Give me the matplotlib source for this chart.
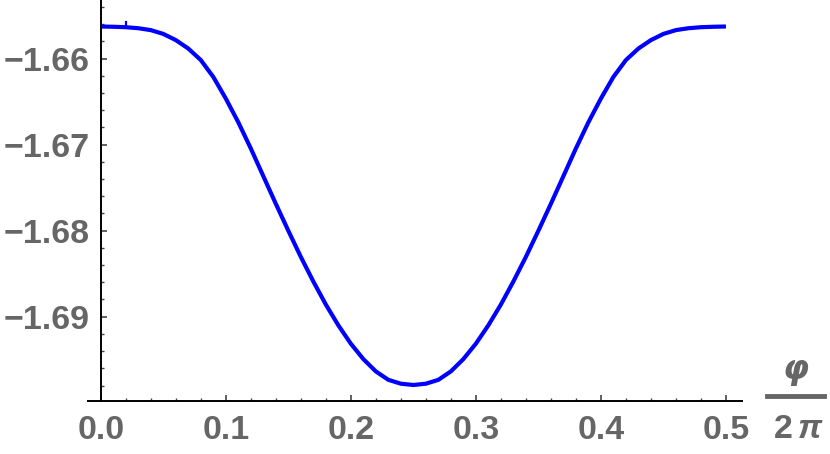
import numpy as np
import matplotlib.pyplot as plt
from matplotlib.lines import Line2D
from matplotlib.ticker import MultipleLocator, FuncFormatter, FormatStrFormatter

# curve, x = phi / (2 pi)
x_left = [0.00, 0.01, 0.02, 0.03, 0.04, 0.05, 0.06, 0.07, 0.08, 0.09,
          0.10, 0.11, 0.12, 0.13, 0.14, 0.15, 0.16, 0.17, 0.18, 0.19,
          0.20, 0.21, 0.22, 0.23, 0.24, 0.25]
y_left = [-1.65628, -1.65631, -1.65636, -1.65648, -1.65670, -1.65714,
          -1.65786, -1.65884, -1.66018, -1.66214, -1.66465, -1.66741,
          -1.67045, -1.67367, -1.67688, -1.68001, -1.68305, -1.68591,
          -1.68859, -1.69100, -1.69314, -1.69493, -1.69636, -1.69734,
          -1.69779, -1.69794]
x_right = [0.26, 0.27, 0.28, 0.29, 0.30, 0.31, 0.32, 0.33, 0.34, 0.35,
           0.36, 0.37, 0.38, 0.39, 0.40, 0.41, 0.42, 0.43, 0.44, 0.45,
           0.46, 0.47, 0.48, 0.49, 0.50]
y_right = [-1.69779, -1.69734, -1.69636, -1.69493, -1.69314, -1.69100,
           -1.68859, -1.68591, -1.68305, -1.68001, -1.67688, -1.67367,
           -1.67045, -1.66741, -1.66465, -1.66214, -1.66018, -1.65884,
           -1.65786, -1.65714, -1.65670, -1.65648, -1.65636, -1.65631,
           -1.65628]
# small glitch in the curve near the start
glitch_x = [0.0205, 0.0205]
glitch_y = [-1.65636, -1.65579]

x_ticks = [0.0, 0.1, 0.2, 0.3, 0.4, 0.5]
y_ticks = [-1.66, -1.67, -1.68, -1.69]

x = np.array(x_left + x_right)
y = np.array(y_left + y_right)

grey = '#666666'
fig = plt.figure(figsize=(8.3, 4.54), dpi=100)
ax = fig.add_axes([88/830, 1 - 401/454, 653.7/830, 401/454])

ax.plot(x, y, color='#0000ff', lw=3.0, solid_capstyle='butt',
        solid_joinstyle='round', clip_on=False)
ax.plot(glitch_x, glitch_y, color='#0000ff', lw=1.6, clip_on=False)

ax.set_xlim(-0.0102, 0.5126)
ax.set_ylim(-1.6998, -1.6532)

ax.spines['left'].set_position(('data', 0))
for s in ['top', 'right']:
    ax.spines[s].set_visible(False)
for s in ['left', 'bottom']:
    ax.spines[s].set_linewidth(1.4)
    ax.spines[s].set_color('black')

ax.set_xticks(x_ticks)
ax.set_yticks(y_ticks)
ax.xaxis.set_minor_locator(MultipleLocator(0.02))
ax.yaxis.set_minor_locator(MultipleLocator(0.002))
ax.xaxis.set_major_formatter(FormatStrFormatter('%.1f'))
ax.yaxis.set_major_formatter(FuncFormatter(lambda v, p: ('%.2f' % v).replace('-', '\u2212')))

ax.tick_params(which='both', direction='in', colors='#444444',
               labelcolor=grey, labelsize=24.5)
ax.tick_params(which='major', length=4, width=1.2)
ax.tick_params(which='minor', length=2.5, width=1.0)
ax.tick_params(axis='x', pad=10)
ax.tick_params(axis='y', pad=8)
for lab in ax.get_xticklabels() + ax.get_yticklabels():
    lab.set_fontfamily('Liberation Sans')
    lab.set_fontweight('bold')

# axis label: phi / 2 pi
fig.text(796/830, 1 - 369/454, 'φ', ha='center', va='center', fontsize=24,
         fontweight='bold', fontstyle='italic', color=grey, family='DejaVu Sans')
fig.add_artist(Line2D([767/830, 824/830], [1 - 395.5/454, 1 - 395.5/454],
                      color=grey, lw=3.5, transform=fig.transFigure))
fig.text(783/830, 1 - 430/454, '2', ha='center', va='center', fontsize=24.5,
         fontweight='bold', color=grey, family='Liberation Sans')
fig.text(810/830, 1 - 430/454, 'π', ha='center', va='center', fontsize=24.5,
         fontweight='bold', fontstyle='italic', color=grey, family='Liberation Sans')

fig.savefig('out.png', dpi=100)
